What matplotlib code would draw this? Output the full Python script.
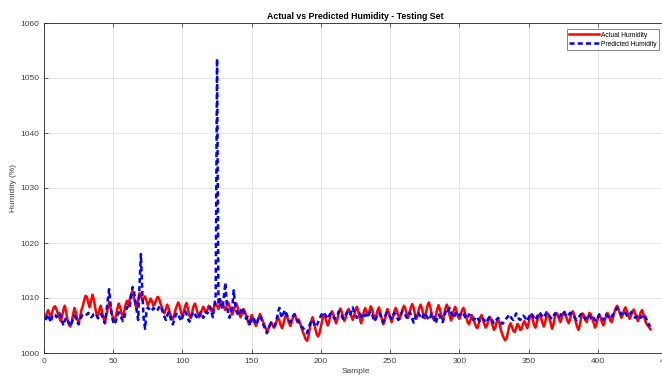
import matplotlib
matplotlib.use('Agg')
import matplotlib.pyplot as plt
import numpy as np

# Actual vs predicted humidity (test set)
actual = [
    1006.5, 1007.2, 1007.8, 1007.0, 1006.8, 1007.5, 1008.3, 1008.5, 1007.9, 1007.2,
    1006.5, 1005.8, 1006.6, 1007.9, 1008.6, 1007.4, 1006.0, 1005.2, 1004.8, 1005.6,
    1007.0, 1008.2, 1007.4, 1006.1, 1005.5, 1006.4, 1007.8, 1008.5, 1009.6, 1010.4,
    1010.2, 1009.1, 1008.3, 1009.5, 1010.6, 1009.8, 1008.2, 1007.0, 1006.8, 1007.9,
    1008.6, 1007.4, 1006.3, 1005.5, 1006.9, 1008.0, 1009.2, 1008.4, 1007.1, 1006.2,
    1005.9, 1006.8, 1008.1, 1009.0, 1008.3, 1007.2, 1006.5, 1007.6, 1008.9, 1009.5,
    1008.7, 1009.8, 1010.8, 1011.2, 1010.1, 1008.8, 1008.0, 1009.4, 1010.9, 1010.5,
    1009.6, 1009.9, 1010.3, 1009.5, 1008.7, 1009.2, 1009.9, 1009.4, 1008.6, 1008.9,
    1009.6, 1010.2, 1010.0, 1009.1, 1008.4, 1007.6, 1007.2, 1008.0, 1008.8, 1008.1,
    1007.2, 1006.5, 1006.1, 1006.8, 1007.9, 1008.6, 1009.2, 1008.5, 1007.4, 1006.6,
    1007.5, 1008.6, 1009.1, 1008.0, 1006.8, 1006.3, 1007.4, 1008.5, 1009.0, 1008.2,
    1007.2, 1006.5, 1006.9, 1007.8, 1008.4, 1007.9, 1007.3, 1007.8, 1008.6, 1008.2,
    1007.6, 1007.9, 1008.5, 1009.0, 1008.6, 1008.0, 1008.8, 1009.4, 1009.0, 1008.3,
    1007.8, 1008.6, 1009.2, 1008.5, 1007.6, 1007.0, 1007.8, 1008.5, 1009.0, 1008.2,
    1007.1, 1006.5, 1007.2, 1008.0, 1007.6, 1006.8, 1006.0, 1005.2, 1006.0, 1006.9,
    1006.3, 1005.6, 1004.9, 1005.5, 1006.4, 1007.1, 1006.5, 1005.8, 1005.2, 1004.6,
    1004.0, 1004.3, 1005.0, 1005.6, 1005.2, 1004.6, 1004.9, 1005.8, 1006.5, 1005.9,
    1005.0, 1004.5, 1005.4, 1006.4, 1007.0, 1006.3, 1005.4, 1004.9, 1005.7, 1006.6,
    1007.1, 1006.4, 1005.6, 1006.1, 1005.4, 1004.6, 1003.8, 1003.2, 1002.5, 1002.2,
    1003.0, 1004.5, 1005.8, 1006.5, 1005.6, 1004.4, 1003.4, 1003.0, 1003.6, 1004.8,
    1006.0, 1007.0, 1006.6, 1005.7, 1005.0, 1005.8, 1006.9, 1007.6, 1007.0, 1006.1,
    1005.4, 1006.2, 1007.4, 1008.1, 1007.5, 1006.6, 1005.8, 1006.5, 1007.6, 1008.0,
    1007.4, 1006.7, 1006.0, 1006.8, 1007.8, 1008.4, 1007.6, 1006.5, 1005.4, 1006.3,
    1007.5, 1008.2, 1007.5, 1006.8, 1007.6, 1008.5, 1008.0, 1006.9, 1006.0, 1006.8,
    1007.8, 1008.3, 1007.3, 1006.2, 1005.2, 1005.8, 1007.0, 1008.0, 1007.4, 1006.5,
    1005.6, 1006.4, 1007.5, 1008.2, 1007.6, 1006.8, 1006.2, 1007.0, 1008.0, 1008.6,
    1008.0, 1007.1, 1006.4, 1007.2, 1008.3, 1008.9, 1008.2, 1007.0, 1006.2, 1007.0,
    1008.2, 1008.8, 1008.1, 1007.0, 1006.3, 1007.4, 1008.6, 1009.2, 1008.4, 1007.1,
    1006.3, 1005.9, 1006.8, 1008.0, 1008.7, 1007.9, 1006.8, 1006.0, 1006.9, 1008.2,
    1008.8, 1008.0, 1006.8, 1005.9, 1006.6, 1007.8, 1008.4, 1007.6, 1006.6, 1006.2,
    1006.9, 1007.8, 1008.2, 1007.4, 1006.5, 1005.6, 1005.2, 1006.0, 1006.9, 1006.4,
    1005.6, 1004.8, 1004.5, 1005.3, 1006.4, 1006.9, 1006.2, 1005.3, 1004.6, 1005.0,
    1006.0, 1006.6, 1006.0, 1005.0, 1004.2, 1004.6, 1005.6, 1006.2, 1005.4, 1004.2,
    1003.4, 1002.8, 1002.3, 1002.6, 1003.6, 1004.8, 1005.4, 1004.8, 1004.0, 1003.8,
    1004.5, 1005.3, 1004.9, 1004.2, 1004.4, 1005.3, 1005.8, 1005.2, 1004.5, 1005.4,
    1006.6, 1007.0, 1006.2, 1005.0, 1004.6, 1005.6, 1006.6, 1007.0, 1006.4, 1005.5,
    1004.8, 1005.6, 1006.8, 1007.2, 1006.5, 1005.4, 1004.4, 1005.2, 1006.6, 1007.3,
    1007.0, 1006.2, 1005.6, 1006.4, 1007.2, 1007.5, 1006.8, 1005.9, 1005.4, 1006.2,
    1007.2, 1007.6, 1006.9, 1005.8, 1004.8, 1004.2, 1005.0, 1006.4, 1007.2, 1006.8,
    1006.0, 1005.6, 1006.5, 1007.3, 1007.0, 1006.2, 1005.5, 1004.6, 1005.2, 1006.3,
    1007.0, 1006.5, 1005.6, 1005.0, 1005.8, 1006.8, 1007.3, 1006.8, 1005.9, 1005.6,
    1006.4, 1007.4, 1008.2, 1008.6, 1008.0, 1007.2, 1006.4, 1006.9, 1007.8, 1008.3,
    1007.6, 1006.8, 1006.2, 1006.8, 1007.6, 1007.9, 1007.2, 1006.4, 1005.8, 1006.5,
    1007.4, 1007.8, 1007.0, 1006.1, 1005.4, 1005.0, 1004.7, 1004.3,
]

predicted = [
    1006.0, 1006.4, 1007.0, 1006.2, 1005.6, 1006.8, 1007.1, 1007.0, 1006.5, 1006.9,
    1007.3, 1006.8, 1005.8, 1005.0, 1005.9, 1006.4, 1006.0, 1005.4, 1004.9, 1005.5,
    1006.2, 1006.8, 1006.3, 1005.6, 1005.2, 1005.9, 1006.6, 1007.0, 1007.1, 1006.9,
    1007.0, 1007.3, 1007.0, 1006.5, 1006.7, 1007.1, 1007.2, 1006.8, 1006.3, 1006.6,
    1007.1, 1006.7, 1006.0, 1005.4, 1007.4, 1009.5, 1011.6, 1009.0, 1006.8, 1005.6,
    1005.2, 1005.9, 1006.6, 1007.4, 1007.0, 1006.3, 1005.8, 1006.5, 1007.5, 1008.4,
    1008.0, 1008.6, 1010.2, 1012.0, 1011.2, 1009.5, 1007.6, 1006.0, 1012.5, 1018.0,
    1011.0, 1006.2, 1004.4, 1007.6, 1008.3, 1008.0, 1007.6, 1007.8, 1008.2, 1007.9,
    1007.6, 1007.8, 1008.3, 1008.6, 1008.0, 1007.3, 1006.6, 1006.0, 1006.8, 1007.4,
    1006.8, 1005.8, 1005.2, 1005.9, 1006.8, 1007.3, 1007.0, 1006.4, 1005.8, 1006.5,
    1007.2, 1007.6, 1007.0, 1006.2, 1005.7, 1006.3, 1007.1, 1007.5, 1007.0, 1006.6,
    1006.2, 1006.8, 1007.4, 1007.0, 1006.4, 1006.9, 1007.5, 1007.2, 1007.8, 1008.4,
    1007.4, 1006.5, 1008.5, 1010.5, 1053.5, 1008.8, 1009.8, 1008.6, 1008.0, 1010.5,
    1012.8, 1009.0, 1007.2, 1006.4, 1007.5, 1008.2, 1011.4, 1009.0, 1007.6, 1007.0,
    1006.8, 1007.6, 1008.2, 1007.6, 1006.8, 1006.2, 1006.6, 1005.8, 1005.0, 1006.0,
    1006.6, 1006.0, 1005.2, 1005.6, 1006.4, 1006.8, 1006.2, 1005.4, 1004.8, 1004.2,
    1003.6, 1004.2, 1005.0, 1005.4, 1005.1, 1004.8, 1005.2, 1006.1, 1007.4, 1008.2,
    1007.0, 1006.4, 1007.2, 1007.8, 1007.2, 1006.6, 1006.0, 1005.6, 1006.2, 1006.8,
    1007.0, 1006.6, 1006.0, 1005.6, 1005.2, 1004.8, 1004.6, 1004.2, 1003.8, 1003.6,
    1004.4, 1005.2, 1005.8, 1006.0, 1005.4, 1004.8, 1005.0, 1005.6, 1006.2, 1006.8,
    1007.2, 1007.4, 1007.0, 1006.6, 1006.2, 1006.8, 1007.2, 1007.0, 1006.6, 1006.2,
    1006.6, 1007.0, 1007.6, 1007.2, 1006.8, 1006.2, 1006.5, 1007.0, 1007.4, 1007.1,
    1006.8, 1007.6, 1008.3, 1007.5, 1006.8, 1006.4, 1006.9, 1007.2, 1006.8, 1006.3,
    1006.6, 1007.0, 1006.8, 1006.5, 1007.2, 1007.6, 1007.0, 1006.2, 1005.8, 1006.4,
    1007.0, 1007.3, 1006.8, 1006.1, 1005.6, 1006.3, 1007.1, 1007.4, 1007.0, 1006.6,
    1006.2, 1006.8, 1007.3, 1007.0, 1006.4, 1006.0, 1006.6, 1007.2, 1007.6, 1007.3,
    1006.9, 1006.4, 1006.8, 1007.4, 1007.0, 1006.2, 1005.5, 1006.4, 1007.1, 1007.4,
    1007.0, 1006.5, 1006.2, 1006.8, 1007.3, 1006.9, 1006.4, 1006.0, 1006.5, 1007.2,
    1007.0, 1006.2, 1005.4, 1006.3, 1007.0, 1006.6, 1006.0, 1005.6, 1006.4, 1007.4,
    1008.0, 1007.6, 1008.2, 1007.4, 1006.6, 1006.4, 1007.0, 1007.5, 1007.2, 1006.8,
    1007.0, 1007.4, 1007.2, 1006.6, 1006.2, 1006.5, 1007.0, 1006.8, 1006.3, 1006.0,
    1006.2, 1006.6, 1006.4, 1006.0, 1005.6, 1005.8, 1006.2, 1006.0, 1005.5, 1005.8,
    1006.3, 1006.6, 1006.2, 1005.8, 1005.4, 1005.6, 1006.1, 1006.4, 1006.0, 1005.6,
    1005.3, 1005.6, 1006.0, 1006.3, 1006.6, 1007.0, 1006.6, 1006.2, 1006.0, 1006.5,
    1007.2, 1006.8, 1006.2, 1006.0, 1006.4, 1006.8, 1006.6, 1006.2, 1005.8, 1006.4,
    1007.0, 1007.2, 1006.8, 1006.4, 1006.0, 1006.5, 1007.1, 1007.4, 1007.0, 1006.6,
    1006.4, 1006.9, 1007.4, 1007.2, 1006.8, 1006.4, 1006.2, 1006.7, 1007.2, 1007.0,
    1006.8, 1006.5, 1006.8, 1007.3, 1007.6, 1007.2, 1006.8, 1006.6, 1006.9, 1007.3,
    1007.2, 1006.8, 1006.6, 1006.2, 1006.0, 1006.3, 1006.8, 1007.1, 1006.9, 1006.5,
    1006.2, 1006.6, 1007.0, 1006.8, 1006.3, 1006.0, 1006.4, 1006.0, 1005.8, 1006.4,
    1007.0, 1006.8, 1006.3, 1006.0, 1006.5, 1007.0, 1006.8, 1006.4, 1006.2, 1006.6,
    1007.0, 1007.4, 1007.8, 1008.2, 1007.8, 1007.4, 1007.0, 1007.3, 1007.6, 1007.2,
    1006.8, 1006.6, 1007.0, 1007.4, 1007.2, 1006.8, 1006.4, 1006.6, 1007.0, 1006.8,
    1006.4, 1006.6, 1007.0, 1006.8, 1006.2, 1005.6, 1005.2, 1004.8,
]

xticks = [0, 50, 100, 150, 200, 250, 300, 350, 400, 450]
yticks = [1000, 1010, 1020, 1030, 1040, 1050, 1060]

samples = np.arange(1, len(actual) + 1)

plt.rcParams['font.family'] = ['Liberation Sans', 'DejaVu Sans']

fig = plt.figure(figsize=(6.62, 3.76), dpi=100)
# axes runs a little past the right edge, like the cropped original
ax = fig.add_axes([44 / 662, 1 - 353 / 376, 623 / 662, 330 / 376])

ax.plot(samples, actual, color='red', lw=1.8, label='Actual Humidity')
ax.plot(samples, predicted, color='blue', lw=1.8, ls=(0, (2.0, 1.3)), label='Predicted Humidity')

ax.set_xlim(0, 450)
ax.set_ylim(1000, 1060)
ax.set_xticks(xticks)
ax.set_yticks(yticks)
ax.grid(True, color='#e6e6e6', lw=0.7)
ax.set_axisbelow(True)

for s in ax.spines.values():
    s.set_color('#262626')
    s.set_linewidth(0.6)
ax.tick_params(direction='in', length=3, width=0.5, colors='#262626',
               labelsize=6, labelcolor='#404040', top=True, right=True, pad=3.5)

ax.set_title('Actual vs Predicted Humidity - Testing Set', fontsize=6.3, fontweight='bold', pad=3)
ax.set_xlabel('Sample', fontsize=6, color='#404040', labelpad=2)
ax.set_ylabel('Humidity (%)', fontsize=6, color='#404040', labelpad=2)

leg = ax.legend(loc='upper right', bbox_to_anchor=(615 / 623, 1 - 6 / 330), borderaxespad=0,
                fontsize=4.8, frameon=True, fancybox=False, handlelength=4.5,
                handletextpad=0.2, borderpad=0.4, labelspacing=0.3)
leg.get_frame().set_edgecolor('#262626')
leg.get_frame().set_linewidth(0.5)

fig.savefig('out.png', dpi=100)
